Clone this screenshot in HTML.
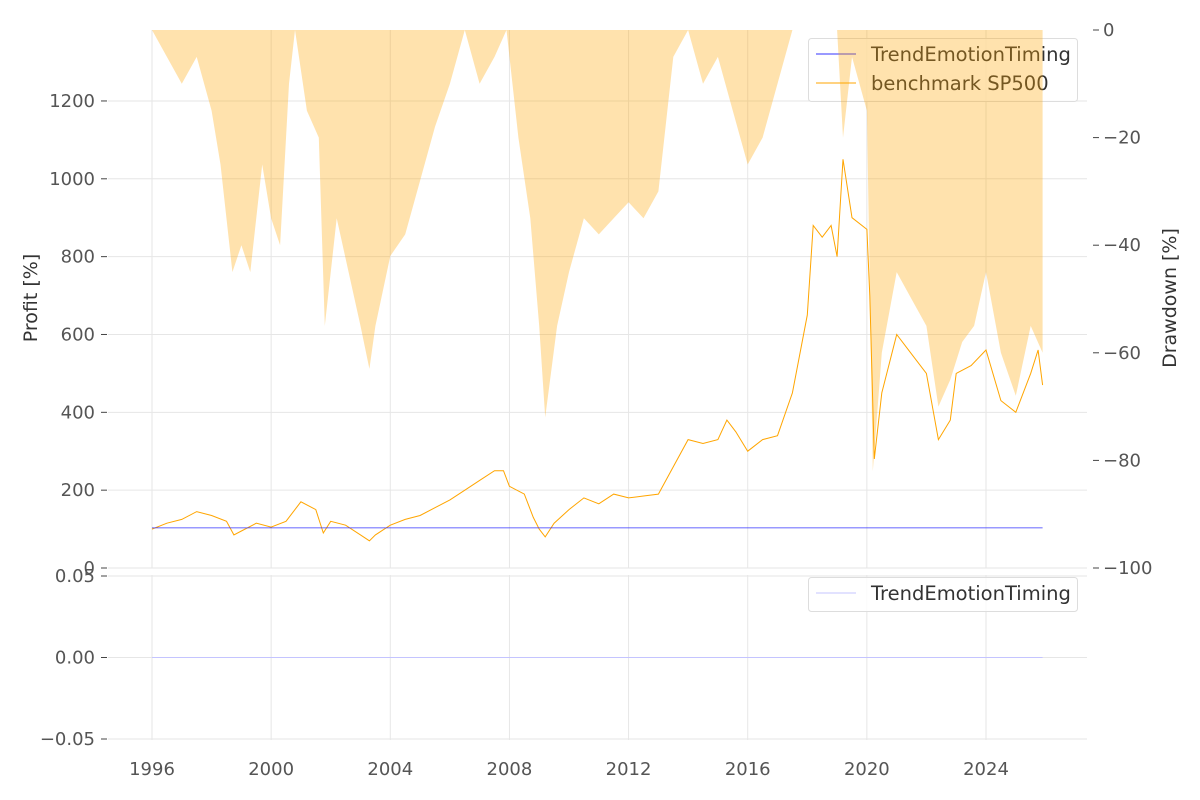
<!DOCTYPE html>
<html><head><meta charset="utf-8"><style>
body{margin:0;background:#fff}
svg{display:block;font-family:"DejaVu Sans","Liberation Sans",sans-serif}
</style></head><body>
<svg id="c" width="1200" height="800" xmlns="http://www.w3.org/2000/svg"></svg>
<script>
const profitYears=[1996,1996.5,1997,1997.5,1998,1998.5,1998.75,1999,1999.5,2000,2000.5,2001,2001.5,2001.75,2002,2002.5,2003,2003.3,2003.5,2004,2004.5,2005,2005.5,2006,2006.5,2007,2007.5,2007.8,2008,2008.5,2008.8,2009,2009.2,2009.5,2010,2010.5,2011,2011.5,2012,2012.5,2013,2013.5,2014,2014.5,2015,2015.3,2015.6,2016,2016.5,2017,2017.5,2018,2018.2,2018.5,2018.8,2019,2019.2,2019.5,2020,2020.1,2020.25,2020.5,2021,2021.5,2022,2022.4,2022.8,2023,2023.5,2024,2024.5,2025,2025.5,2025.75,2025.9];
const benchmarkProfit=[100,115,125,145,135,120,85,95,115,105,120,170,150,90,120,110,85,70,85,110,125,135,155,175,200,225,250,250,210,190,130,100,80,115,150,180,165,190,180,185,190,260,330,320,330,380,350,300,330,340,450,650,880,850,880,800,1050,900,870,700,280,450,600,550,500,330,380,500,520,560,430,400,500,560,470];
const strategyYears=[1996,2025.9];
const strategyProfit=[103,103];
const ddYears=[1996,1996.5,1997,1997.5,1998,1998.3,1998.7,1999,1999.3,1999.7,2000,2000.3,2000.6,2000.8,2001.2,2001.6,2001.8,2002.2,2002.6,2003,2003.3,2003.5,2004,2004.5,2005,2005.5,2006,2006.5,2007,2007.5,2007.9,2008.3,2008.7,2009,2009.2,2009.6,2010,2010.5,2011,2011.5,2012,2012.5,2013,2013.5,2014,2014.5,2015,2015.5,2016,2016.5,2017,2017.5,2019,2019.2,2019.5,2020,2020.2,2020.5,2021,2021.5,2022,2022.4,2022.8,2023.2,2023.6,2024,2024.5,2025,2025.5,2025.9];
const drawdown=[0,-5,-10,-5,-15,-25,-45,-40,-45,-25,-35,-40,-10,0,-15,-20,-55,-35,-45,-55,-63,-55,-42,-38,-28,-18,-10,0,-10,-5,0,-20,-35,-55,-72,-55,-45,-35,-38,-35,-32,-35,-30,-5,0,-10,-5,-15,-25,-20,-10,0,0,-20,-5,-15,-82,-60,-45,-50,-55,-70,-65,-58,-55,-45,-60,-68,-55,-60];
const xTicks=[1996,2000,2004,2008,2012,2016,2020,2024];
const yTicks=[0,200,400,600,800,1000,1200];
const ddTicks=[0,-20,-40,-60,-80,-100];
const bTicks=[0.05,0,-0.05];

const S=document.getElementById('c'),NS='http://www.w3.org/2000/svg';
function mk(t,a,p){const e=document.createElementNS(NS,t);for(const k in a)e.setAttribute(k,a[k]);(p||S).appendChild(e);return e;}
const L=108,R=1087,T=30,B=568,BT=575,BB=740;
const X=y=>152+(y-1996)*29.786;
const Y=v=>568-v*0.3892;
const YD=v=>30-v*5.38;
const YB=v=>657.5-v*1630;

const g=mk('g',{});

xTicks.forEach(t=>{mk('line',{x1:X(t),x2:X(t),y1:T,y2:B,stroke:'#e6e6e6'},g);mk('line',{x1:X(t),x2:X(t),y1:BT,y2:BB,stroke:'#e6e6e6'},g);});
yTicks.forEach(t=>mk('line',{x1:L,x2:R,y1:Y(t),y2:Y(t),stroke:'#e6e6e6'},g));
bTicks.forEach(t=>mk('line',{x1:L,x2:R,y1:YB(t),y2:YB(t),stroke:'#e6e6e6'},g));

let d='';benchmarkProfit.forEach((v,i)=>d+=(i?'L':'M')+X(profitYears[i]).toFixed(1)+','+Y(v).toFixed(1));
const bl=mk('path',{d,fill:'none',stroke:'#ffa500','stroke-width':1});

d='';strategyProfit.forEach((v,i)=>d+=(i?'L':'M')+X(strategyYears[i])+','+Y(v));
const sl=mk('path',{d,fill:'none',stroke:'#3333ff','stroke-width':0.8});


const lg=mk('g',{});

mk('rect',{x:808.5,y:38.5,width:269,height:63,rx:3,fill:'#fff','fill-opacity':0.8,stroke:'#ddd'},lg);
mk('line',{x1:816,x2:856,y1:54,y2:54,stroke:'#3333ff'},lg);
mk('line',{x1:816,x2:856,y1:83,y2:83,stroke:'#ffa500'},lg);
let t=mk('text',{x:871,y:61,'font-size':19.5,fill:'#333'},lg);t.textContent='TrendEmotionTiming';
t=mk('text',{x:871,y:90,'font-size':19.5,fill:'#333'},lg);t.textContent='benchmark SP500';

d='M'+X(ddYears[0])+','+YD(0);
drawdown.forEach((v,i)=>d+='L'+X(ddYears[i]).toFixed(1)+','+YD(v).toFixed(1));
d+='L'+X(ddYears[ddYears.length-1])+','+YD(0)+'Z';
const df=mk('path',{d,fill:'#ffa500','fill-opacity':0.32});


const zl=mk('line',{x1:X(1996),x2:X(2025.9),y1:YB(0),y2:YB(0),stroke:'#c4c4ff'});

const lg2=mk('g',{});

mk('rect',{x:808.5,y:577.5,width:269,height:34,rx:3,fill:'#fff','fill-opacity':0.8,stroke:'#ddd'},lg2);
mk('line',{x1:816,x2:856,y1:593,y2:593,stroke:'#c4c4ff'},lg2);
t=mk('text',{x:871,y:600,'font-size':19.5,fill:'#333'},lg2);t.textContent='TrendEmotionTiming';

const tg=mk('g',{'font-size':18,fill:'#555'});

yTicks.forEach(v=>{mk('line',{x1:101,x2:107,y1:Y(v),y2:Y(v),stroke:'#444'},tg);const e=mk('text',{x:95,y:Y(v)+6,'text-anchor':'end'},tg);e.textContent=v;});
ddTicks.forEach(v=>{mk('line',{x1:1093,x2:1099,y1:YD(v),y2:YD(v),stroke:'#444'},tg);const e=mk('text',{x:1103,y:YD(v)+6},tg);e.textContent=v<0?'\u2212'+(-v):v;});
bTicks.forEach(v=>{mk('line',{x1:101,x2:107,y1:YB(v),y2:YB(v),stroke:'#444'},tg);const e=mk('text',{x:95,y:YB(v)+6,'text-anchor':'end'},tg);e.textContent=v<0?'\u2212'+(-v).toFixed(2):v.toFixed(2);});
xTicks.forEach(v=>{const e=mk('text',{x:X(v),y:775,'text-anchor':'middle'},tg);e.textContent=v;});
t=mk('text',{x:0,y:0,'font-size':19,fill:'#333','text-anchor':'middle',transform:'translate(37,298) rotate(-90)'});t.textContent='Profit [%]';

t=mk('text',{x:0,y:0,'font-size':19,fill:'#333','text-anchor':'middle',transform:'translate(1176,298) rotate(-90)'});t.textContent='Drawdown [%]';

</script>
</body></html>
